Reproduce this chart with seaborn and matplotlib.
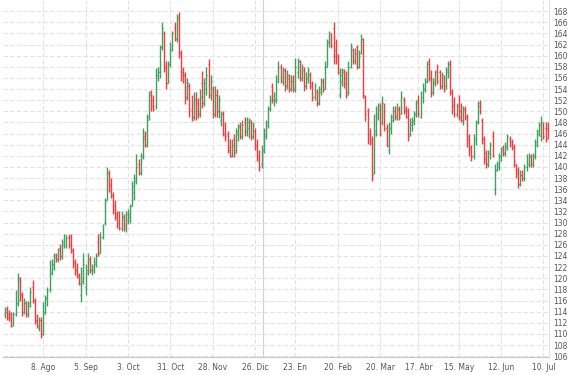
import numpy as np
import pandas as pd
import matplotlib
matplotlib.use('Agg')
import matplotlib.pyplot as plt
import seaborn as sns

# daily OHLC values (Jul 13 2022 - Jul 12 2023)
opens = [
    113.5, 114.5, 113.5, 113.5, 112, 113.5, 115.5, 120, 117, 114,
    115.5, 113.5, 115, 118.5, 116, 112.5, 111, 112.5, 110, 114,
    116.5, 118, 121, 122.5, 124.2, 123.5, 125.5, 124, 126, 126.5,
    127.5, 127.5, 125, 123, 121.5, 120.5, 117, 119.5, 118.5, 121,
    123.5, 121.5, 121.5, 122.5, 126.5, 124.5, 127.5, 130, 134, 139,
    137, 135, 133, 131.5, 131, 129, 131, 129, 130.5, 131,
    133, 135.5, 137.5, 140.5, 139, 142, 145.5, 144, 149, 153.5,
    152, 151, 156.5, 157, 161.5, 164, 158, 155, 158.5, 161,
    165, 163, 167, 160.5, 157, 156.5, 152.5, 154.5, 150.5, 149,
    152, 151.5, 149.5, 155, 151.5, 154, 158.5, 153, 154, 149.5,
    153, 150, 148.5, 149.5, 146.5, 146, 143.5, 142, 145, 143,
    146, 147.5, 145.5, 148, 146.5, 147, 148, 145.5, 146.5, 144,
    142, 140.5, 143, 145.5, 147.5, 150.5, 154.5, 152, 152, 155.5,
    158, 155.5, 157.5, 154.5, 156, 154, 155.5, 154, 157, 159,
    156, 157.5, 154.5, 156, 156.5, 155, 152.5, 153.5, 151.5, 153.5,
    155.5, 154, 158, 162.5, 163.5, 165, 161, 160, 153, 155.5,
    157.5, 156, 153.5, 158, 161, 159, 161.5, 158, 160.5, 163,
    152.5, 150, 146, 145, 139, 146, 149, 151, 148, 151,
    147, 143, 147, 148.5, 150, 149, 150.5, 149.5, 152, 150.5,
    150, 146, 147.5, 148, 149.5, 152, 149, 152.5, 154, 155.5,
    159, 156, 153.5, 155, 158, 157, 154.5, 156, 154.5, 157,
    158.5, 153.5, 151, 149.5, 151, 150, 148, 150.5, 149, 145.5,
    143.5, 142, 145, 148, 151.5, 148.5, 145, 142.5, 140.5, 142,
    145.5, 136, 139.5, 140, 142, 143.5, 142.5, 143.5, 145, 144.5,
    143.5, 140.5, 139.5, 137, 138.5, 138, 140, 140.5, 142, 140.5,
    142, 144, 146, 145.5, 147.5, 147, 147,
]
highs = [
    114.8, 115, 114.3, 114, 114, 117.8, 120.9, 120.2, 117.5, 116.5,
    116, 116, 118.4, 119.6, 116.5, 113.5, 113, 113, 115.7, 117,
    118.4, 123.2, 123.5, 124.5, 124.6, 125.5, 126.2, 127, 128, 127.7,
    128, 128, 125.5, 123.5, 122.8, 121, 122, 124.5, 122.5, 124.5,
    124, 122.5, 123.8, 124.5, 128, 128.3, 129.8, 134.5, 140, 139.5,
    138, 135.5, 134, 132, 132, 132, 131.5, 132, 132.5, 133.4,
    137.5, 138.8, 142.4, 141.5, 142.5, 147, 146.5, 149.5, 153.7, 153.8,
    153, 157.8, 158, 162, 166, 164.5, 159, 159, 162.5, 164.4,
    166, 167.5, 167.8, 161, 158, 157, 156, 155, 153, 153.5,
    153.5, 152.4, 154, 157.3, 156, 158, 159.4, 156.5, 154.5, 154.5,
    154, 153, 150, 150, 148, 146.5, 145, 145, 146, 147,
    147.8, 148, 148.5, 149, 149, 148.8, 148.5, 148, 147, 145,
    143, 144, 147, 148.5, 151, 153, 155, 153.5, 156.5, 159,
    158.5, 158, 157.8, 157.5, 156.7, 156.5, 156.5, 159.6, 159.6, 159.3,
    158.5, 158, 157, 158, 157, 155.5, 155, 154, 154.5, 156,
    156, 159, 163, 164.4, 164, 166, 163, 160.3, 157.8, 157.8,
    157.6, 157.3, 159, 162.3, 161.4, 161.4, 162, 161, 163.9, 163.2,
    153, 150.6, 147, 145.6, 149.5, 151, 151.5, 151.5, 152.8, 151.5,
    147.8, 148, 149.5, 151, 151, 151.5, 151, 153.7, 152.5, 151,
    150.6, 148.8, 149, 150, 152, 153, 153.7, 155, 156, 159,
    159.6, 157.5, 156, 157.5, 158.5, 157.5, 157, 156.5, 158, 159,
    159.2, 154, 152.5, 151.5, 153, 151.5, 151, 151, 149.5, 146,
    144, 146, 148.5, 151.9, 152, 148.8, 145.5, 143, 143, 144.5,
    146.5, 140.6, 141, 142.5, 143.5, 144, 144.5, 146, 145.5, 145,
    144.2, 140.6, 140, 139.5, 139.5, 140.5, 142.4, 142.5, 142.4, 142.5,
    145, 146.8, 148, 149.2, 148, 148, 148,
]
lows = [
    112.8, 112.5, 112.3, 111.2, 111.5, 113.3, 115, 116, 113.3, 113.5,
    113, 113, 114.8, 115.5, 111.8, 111, 110.5, 109.2, 109.8, 113.5,
    115, 117.5, 120.5, 121.4, 123, 123, 123.2, 123.5, 125.5, 125.5,
    125.5, 124.5, 121.8, 120.5, 120, 118.7, 115.7, 119, 117, 120.5,
    121, 120.5, 121, 122, 124, 124.5, 127, 129.5, 134, 135.5,
    134.5, 131.5, 130.5, 129, 128.6, 128.5, 128.5, 128.3, 129.8, 130,
    133, 134, 137, 138.5, 138.5, 141.5, 143.5, 143.5, 148.5, 150,
    150, 150.5, 155.5, 156, 161, 157, 154, 155, 158, 160.8,
    162.6, 162.5, 159.6, 155.5, 155, 151.3, 152, 149, 148.3, 148.5,
    148.5, 148.8, 149, 150.6, 151, 153, 152.4, 152, 148.8, 149,
    149, 148.8, 147.4, 145.5, 144.7, 142.5, 141.7, 141.7, 141.7, 142.5,
    144.7, 145, 145, 145.5, 145.5, 145.2, 144.8, 145, 143, 141,
    139.3, 139.8, 142.5, 145, 147, 150, 151.5, 151, 151.5, 155,
    155, 154.8, 153.7, 154, 153.5, 153.7, 153.5, 153.5, 156, 155.5,
    155.5, 153.7, 154, 155, 154, 151.9, 152, 151, 151.2, 153,
    153.5, 154, 158, 161.5, 161.4, 158.5, 158.5, 156.7, 152.4, 154.5,
    154.2, 152.4, 153, 157.8, 158.5, 158.5, 157.6, 157.8, 160.3, 152.4,
    148.3, 144.2, 144, 137.5, 138.8, 145.5, 148.5, 145.5, 147.5, 146.5,
    143.5, 142.4, 146, 148, 148.5, 148.5, 148.5, 149.5, 149.5, 148.8,
    144.7, 145.5, 146.5, 147.5, 149, 149, 148.8, 151.5, 153.5, 155,
    155.5, 152.5, 153, 154.5, 154.9, 154, 154, 153.5, 154, 156,
    153, 149.5, 149, 149, 148.5, 148, 147.5, 148.5, 143.5, 142,
    141.1, 141.5, 144, 147.8, 149.5, 144.2, 140.5, 139.9, 140, 141.5,
    141.7, 134.9, 139.3, 139.5, 141, 142, 142, 143, 143.5, 143,
    140, 138.1, 136.3, 136.5, 137.5, 137.5, 139.3, 140, 140, 140,
    141.5, 143.5, 145.5, 144.7, 145, 144.5, 145,
]
closes = [
    114, 113, 112.8, 111.5, 113.5, 115.5, 119.5, 117, 114, 115.5,
    113.5, 115.5, 117.5, 116, 112.5, 111.5, 112.5, 110, 113.5, 116.5,
    117.8, 121, 122.5, 123.8, 123.5, 125, 124, 126.5, 127.8, 127.2,
    126, 125, 123, 121.5, 120.5, 119, 120, 122.5, 121.5, 123,
    121.5, 122, 123, 124, 124.5, 127.5, 129.5, 133.8, 139, 136.5,
    135, 132.5, 131, 130, 129, 131, 129.5, 131.5, 131.5, 133,
    136.5, 138, 140, 139, 142, 145, 144, 148.5, 153, 151,
    150.5, 156.5, 157, 161.5, 165, 158, 155, 158.5, 161, 164,
    163, 166.5, 160.5, 157, 156.5, 152.5, 155, 150, 149, 152,
    150, 149.5, 152.5, 151.5, 155, 156.5, 153, 155.5, 149.5, 153,
    150, 152, 149.5, 146, 145.5, 143, 142, 144, 142.5, 146.5,
    147.2, 145.5, 147.5, 146.5, 148, 148.5, 145.5, 147.5, 143.5, 141.5,
    140, 143.5, 146, 148, 150.5, 152, 152, 152.2, 155.5, 158,
    156, 157.5, 154.5, 156.5, 154, 155.5, 154, 158, 159, 156,
    158, 154.5, 156, 157.5, 154.5, 152.5, 153.5, 151.5, 154, 155.5,
    154, 158, 162.5, 164, 162, 160, 159.5, 157, 156.5, 157,
    155, 153, 158, 161.5, 159, 160.5, 158, 160, 163, 153,
    149.5, 145.5, 144.5, 138.5, 146.5, 149.5, 150.5, 146, 151.5, 147,
    144, 147, 149, 150, 149.2, 150.5, 149, 152.5, 150, 149,
    145.5, 148, 148.5, 149.5, 151.5, 149.5, 153, 154, 155.5, 158.5,
    156, 153.5, 155.5, 157, 155.5, 154.5, 156.5, 154, 157.5, 158.5,
    153.5, 151, 149.5, 151, 149, 148.5, 150.5, 149, 145, 143,
    142, 145, 148, 151, 150, 145, 141.5, 140.5, 142.5, 144,
    142, 139.5, 140.5, 142, 143, 142.5, 144, 145.5, 144, 143.5,
    141, 139, 137, 138.5, 138, 140, 141.5, 142, 140.5, 142,
    144.5, 146.5, 147.5, 148, 145.5, 145, 145.5,
]

holidays = ['2022-12-26', '2023-04-07', '2023-04-10', '2023-05-01']
tick_dates = ['2022-08-08', '2022-09-05', '2022-10-03', '2022-10-31', '2022-11-28',
              '2022-12-26', '2023-01-23', '2023-02-20', '2023-03-20', '2023-04-17',
              '2023-05-15', '2023-06-12', '2023-07-10']
tick_labels = ['8. Ago', '5. Sep', '3. Oct', '31. Oct', '28. Nov', '26. Dic', '23. En',
               '20. Feb', '20. Mar', '17. Abr', '15. May', '12. Jun', '10. Jul']

dates = pd.bdate_range('2022-07-13', '2023-07-12', freq='C', holidays=holidays)
df = pd.DataFrame({'date': dates[:len(opens)], 'open': opens, 'high': highs,
                   'low': lows, 'close': closes})
df['x'] = np.arange(len(df))

sns.set_style('white')
fig = plt.figure(figsize=(5.71, 3.75), dpi=100)
ax = fig.add_axes([3 / 571, 18 / 375, 546 / 571, 357 / 375])

green, red = '#3f9f5f', '#f23b3f'
cols = np.where(df['close'] >= df['open'], green, red)

ax.vlines(df['x'], df['low'], df['high'], colors=cols, lw=1.0, zorder=3)
ax.hlines(df['open'], df['x'] - 0.45, df['x'], colors=cols, lw=1.0, zorder=3)
ax.hlines(df['close'], df['x'], df['x'] + 0.45, colors=cols, lw=1.0, zorder=3)

# year change
jan = dates.searchsorted(pd.Timestamp('2023-01-02'))
ax.axvline(jan - 0.5, color='#d0d0d0', lw=0.8, zorder=1)

tick_pos = [dates.searchsorted(pd.Timestamp(d)) for d in tick_dates]
ax.set_xticks(tick_pos)
ax.set_xticklabels(tick_labels)
ax.set_yticks(np.arange(106, 170, 2))
ax.yaxis.tick_right()

ax.set_xlim(-0.94, 256.6)
ax.set_ylim(105.85, 170)

ax.grid(True, axis='both', color='#e2e2e2', linestyle=(0, (4, 2)), lw=0.8, zorder=0)
ax.tick_params(axis='y', length=0, pad=3, labelsize=5.5, labelcolor='#555555')
ax.tick_params(axis='x', length=3, width=0.6, color='#cccccc', pad=1.5,
               labelsize=5.5, labelcolor='#555555')

for s in ['top', 'left']:
    ax.spines[s].set_visible(False)
ax.spines['bottom'].set_color('#c8c8c8')
ax.spines['bottom'].set_linewidth(0.8)
ax.spines['right'].set_color('#e2e2e2')
ax.spines['right'].set_linewidth(0.8)

fig.savefig('out.png', dpi=100)
